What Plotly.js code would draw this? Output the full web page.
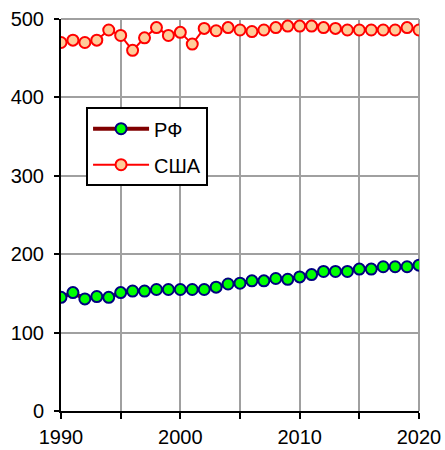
<!DOCTYPE html>
<html>
<head>
<meta charset="utf-8">
<script src="https://cdn.plot.ly/plotly-3.0.1.min.js"></script>
<style>html,body{margin:0;padding:0;background:#fff;}#chart{width:445px;height:450px;}</style>
</head>
<body>
<div id="chart"></div>
<script>
const years = [1990,1991,1992,1993,1994,1995,1996,1997,1998,1999,2000,2001,2002,2003,2004,2005,2006,2007,2008,2009,2010,2011,2012,2013,2014,2015,2016,2017,2018,2019,2020];
const rf  = [145,151,143,146,145,151,153,153,155,155,155,155,155,158,162,163,166,166,169,168,171,174,178,178,178,181,181,184,184,184,186];
const usa = [470,473,470,473,486,479,460,476,489,479,483,468,488,485,489,486,484,486,489,491,491,491,489,488,486,486,486,486,486,489,486];
const xTickVals = [1990,1995,2000,2005,2010,2015,2020];
const xTickText = ['1990','','2000','','2010','','2020'];
const yTickVals = [0,100,200,300,400,500];

const font = {family: '"Liberation Sans", Arial, sans-serif', size: 20, color: '#000'};

const traces = [
  {x: years, y: rf, name: 'РФ', type: 'scatter', mode: 'lines+markers', legendgroup: 'a',
   line: {color: '#800000', width: 4},
   marker: {size: 11, color: '#00ff00', line: {color: '#000080', width: 2}}},
  {x: years, y: usa, name: 'США', type: 'scatter', mode: 'lines+markers', legendgroup: 'b',
   line: {color: '#ff0000', width: 2},
   marker: {size: 11, color: '#ffcc99', line: {color: '#ff0000', width: 2}}}
];

const layout = {
  width: 445, height: 450,
  margin: {l: 61, r: 26, t: 19, b: 39},
  paper_bgcolor: '#fff', plot_bgcolor: '#fff',
  font: font,
  showlegend: true,
  legend: {x: 0.07, y: 0.775, xanchor: 'left', yanchor: 'top',
    bgcolor: '#fff', bordercolor: '#000', borderwidth: 2,
    font: font, tracegroupgap: 7, traceorder: 'grouped', itemwidth: 56, entrywidth: 107},
  shapes: [
    {type: 'line', xref: 'paper', yref: 'paper', x0: 0, x1: 1, y0: 1, y1: 1, line: {color: '#a0a0a0', width: 2}, layer: 'below'},
    {type: 'line', xref: 'paper', yref: 'paper', x0: 1, x1: 1, y0: 0, y1: 1, line: {color: '#a0a0a0', width: 2}, layer: 'below'}
  ],
  xaxis: {range: [1990, 2020], tickmode: 'array', tickvals: xTickVals, ticktext: xTickText,
    showgrid: true, gridcolor: '#a0a0a0', gridwidth: 2,
    showline: true, linecolor: '#000', linewidth: 2,
    ticks: 'outside', ticklen: 6, tickwidth: 2, tickcolor: '#000', ticklabelstandoff: 1,
    zeroline: false, tickfont: font, fixedrange: true},
  yaxis: {range: [0, 500], tickmode: 'array', tickvals: yTickVals,
    showgrid: true, gridcolor: '#a0a0a0', gridwidth: 2,
    showline: true, linecolor: '#000', linewidth: 2,
    ticks: 'outside', ticklen: 5, tickwidth: 2, tickcolor: '#000', ticklabelstandoff: 6,
    zeroline: false, tickfont: font, fixedrange: true}
};

Plotly.newPlot('chart', traces, layout, {staticPlot: true});
</script>
</body>
</html>
